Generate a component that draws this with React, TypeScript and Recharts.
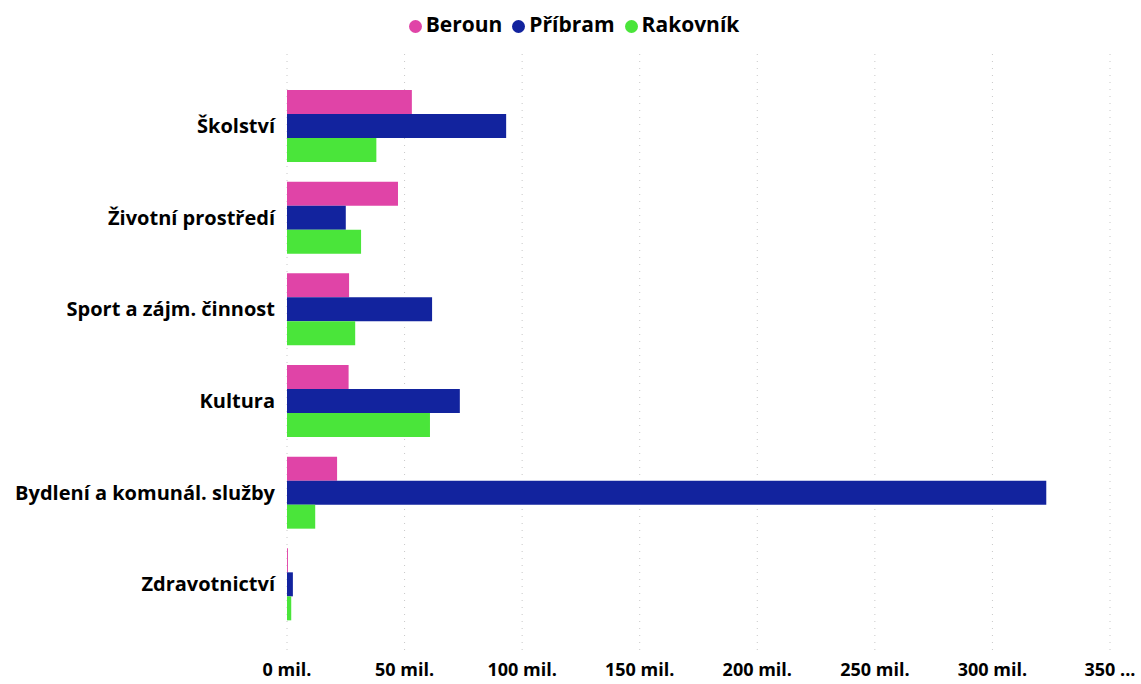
import { BarChart, Bar, XAxis, YAxis, CartesianGrid, Legend } from "recharts";

// values in millions CZK
const categories = [
  "Školství",
  "Životní prostředí",
  "Sport a zájm. činnost",
  "Kultura",
  "Bydlení a komunál. služby",
  "Zdravotnictví",
];
const beroun = [53.1, 47.2, 26.4, 26.2, 21.3, 0.4];
const pribram = [93.2, 25.0, 61.7, 73.5, 322.9, 2.5];
const rakovnik = [38.0, 31.5, 29.0, 60.8, 12.0, 1.8];
const xTicks = [0, 50, 100, 150, 200, 250, 300, 350];

const data = categories.map((name, i) => ({
  name,
  Beroun: beroun[i],
  Příbram: pribram[i],
  Rakovník: rakovnik[i],
}));

const FONT = "'Open Sans', 'Noto Sans', sans-serif";

export default function App() {
  return (
    <div style={{ position: "absolute", left: 0, top: 0, fontFamily: FONT }}>
      <BarChart
        width={1141}
        height={684}
        data={data}
        layout="vertical"
        margin={{ top: 24, right: 31, bottom: 0, left: 0 }}
        barCategoryGap={10}
        barGap={0}
      >
        <CartesianGrid
          horizontal={false}
          stroke="#c8c8c8"
          strokeDasharray="1 6"
        />
        <XAxis
          type="number"
          domain={[0, 350]}
          ticks={xTicks}
          interval={0}
          axisLine={false}
          tickLine={false}
          tickSize={0}
          tickMargin={7}
          height={28}
          tick={{ fill: "#000", fontSize: 18, fontWeight: 700, fontFamily: FONT }}
          tickFormatter={(v: number) => (v === 350 ? "350 ..." : `${v} mil.`)}
        />
        <YAxis
          type="category"
          dataKey="name"
          width={287}
          axisLine={false}
          tickLine={false}
          tickSize={0}
          tickMargin={12}
          padding={{ top: 26, bottom: 26 }}
          tick={{ fill: "#000", fontSize: 20, fontWeight: 700, fontFamily: FONT }}
        />
        <Legend
          verticalAlign="top"
          align="center"
          iconType="circle"
          iconSize={13}
          height={30}
          wrapperStyle={{
            top: 10,
            left: 15,
            width: 1128,
            fontSize: 21,
            fontWeight: 700,
            fontFamily: FONT,
          }}
          formatter={(value: string) => (
            <span style={{ color: "#000" }}>{value}</span>
          )}
        />
        <Bar dataKey="Beroun" fill="#E044A7" isAnimationActive={false} />
        <Bar dataKey="Příbram" fill="#12239E" isAnimationActive={false} />
        <Bar dataKey="Rakovník" fill="#4AE53A" isAnimationActive={false} />
      </BarChart>
    </div>
  );
}
